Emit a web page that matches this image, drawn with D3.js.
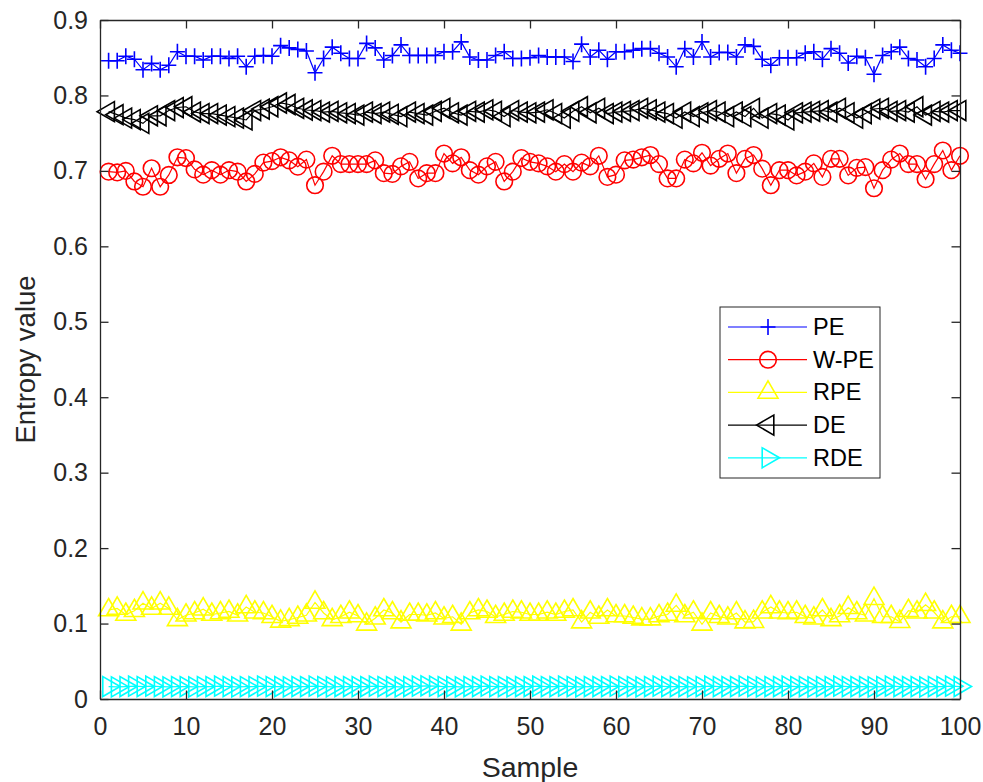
<!DOCTYPE html>
<html>
<head>
<meta charset="utf-8">
<script src="https://cdn.jsdelivr.net/npm/d3@7"></script>
<style>
  body { margin: 0; background: #fff; }
  text { font-family: "Liberation Sans", Arial, Helvetica, sans-serif; fill: #262626; }
</style>
</head>
<body>
<svg id="chart" width="983" height="782"></svg>
<script>
// Sample index 1..100
const samples = d3.range(1, 101);

const peValues = [
  0.846, 0.846, 0.852, 0.848, 0.834, 0.8425, 0.834, 0.840, 0.858, 0.852,
  0.852, 0.847, 0.852, 0.852, 0.849, 0.852, 0.838, 0.852, 0.853, 0.852,
  0.866, 0.863, 0.861, 0.859, 0.830, 0.849, 0.864, 0.856, 0.849, 0.849,
  0.869, 0.863, 0.847, 0.853, 0.867, 0.853, 0.853, 0.853, 0.853, 0.858,
  0.858, 0.871, 0.851, 0.847, 0.847, 0.853, 0.858, 0.849, 0.849, 0.850,
  0.853, 0.851, 0.851, 0.851, 0.845, 0.868, 0.851, 0.860, 0.848, 0.858,
  0.858, 0.860, 0.862, 0.862, 0.856, 0.851, 0.838, 0.862, 0.851, 0.871,
  0.851, 0.857, 0.857, 0.851, 0.867, 0.865, 0.848, 0.840, 0.850, 0.850,
  0.850, 0.856, 0.858, 0.848, 0.862, 0.856, 0.843, 0.852, 0.850, 0.828,
  0.853, 0.858, 0.864, 0.849, 0.847, 0.838, 0.849, 0.867, 0.860, 0.856
];

const wpeValues = [
  0.699, 0.698, 0.700, 0.686, 0.679, 0.7035, 0.679, 0.6946, 0.718, 0.717,
  0.702, 0.695, 0.701, 0.695, 0.701, 0.699, 0.686, 0.696, 0.711, 0.713,
  0.718, 0.714, 0.7056, 0.715, 0.681, 0.699, 0.720, 0.709, 0.709, 0.709,
  0.709, 0.714, 0.697, 0.696, 0.706, 0.712, 0.690, 0.697, 0.697, 0.723,
  0.710, 0.718, 0.701, 0.695, 0.706, 0.712, 0.686, 0.699, 0.717, 0.712,
  0.710, 0.706, 0.699, 0.709, 0.699, 0.711, 0.706, 0.720, 0.692, 0.695,
  0.714, 0.715, 0.718, 0.721, 0.709, 0.690, 0.690, 0.715, 0.710, 0.724,
  0.707, 0.716, 0.723, 0.697, 0.716, 0.721, 0.703, 0.681, 0.701, 0.701,
  0.694, 0.699, 0.710, 0.692, 0.716, 0.716, 0.694, 0.704, 0.705, 0.677,
  0.701, 0.715, 0.723, 0.709, 0.709, 0.689, 0.709, 0.727, 0.701, 0.720
];

const rpeValues = [
  0.118, 0.120, 0.112, 0.117, 0.127, 0.120, 0.127, 0.120, 0.105, 0.111,
  0.114, 0.119, 0.112, 0.114, 0.116, 0.111, 0.122, 0.115, 0.114, 0.109,
  0.103, 0.105, 0.108, 0.111, 0.128, 0.114, 0.105, 0.109, 0.115, 0.110,
  0.099, 0.107, 0.118, 0.114, 0.102, 0.112, 0.112, 0.111, 0.114, 0.107,
  0.109, 0.099, 0.114, 0.118, 0.116, 0.109, 0.112, 0.116, 0.115, 0.112,
  0.112, 0.115, 0.112, 0.116, 0.118, 0.102, 0.115, 0.108, 0.118, 0.110,
  0.110, 0.108, 0.106, 0.106, 0.110, 0.112, 0.124, 0.110, 0.115, 0.099,
  0.114, 0.109, 0.107, 0.114, 0.102, 0.1025, 0.115, 0.122, 0.115, 0.114,
  0.115, 0.109, 0.107, 0.118, 0.105, 0.110, 0.121, 0.114, 0.111, 0.133,
  0.109, 0.109, 0.1025, 0.117, 0.115, 0.125, 0.115, 0.102, 0.109, 0.109
];

const deValues = [
  0.7785, 0.7745, 0.770, 0.768, 0.763, 0.773, 0.773, 0.780, 0.784, 0.785,
  0.778, 0.776, 0.776, 0.774, 0.772, 0.770, 0.7675, 0.780, 0.782, 0.785,
  0.790, 0.788, 0.783, 0.7807, 0.780, 0.778, 0.779, 0.777, 0.776, 0.774,
  0.778, 0.776, 0.778, 0.775, 0.772, 0.778, 0.776, 0.774, 0.779, 0.783,
  0.777, 0.774, 0.779, 0.778, 0.781, 0.779, 0.772, 0.780, 0.778, 0.777,
  0.778, 0.781, 0.776, 0.770, 0.779, 0.785, 0.777, 0.783, 0.776, 0.778,
  0.779, 0.780, 0.783, 0.781, 0.778, 0.776, 0.770, 0.778, 0.772, 0.777,
  0.780, 0.778, 0.772, 0.778, 0.772, 0.783, 0.770, 0.776, 0.774, 0.7675,
  0.777, 0.778, 0.779, 0.780, 0.778, 0.783, 0.777, 0.770, 0.776, 0.782,
  0.783, 0.779, 0.780, 0.778, 0.785, 0.774, 0.779, 0.778, 0.780, 0.780
];

const rdeValues = [
  0.0165, 0.0160, 0.0165, 0.0170, 0.0165, 0.0170, 0.0165, 0.0160, 0.0165, 0.0165,
  0.0160, 0.0165, 0.0165, 0.0170, 0.0165, 0.0160, 0.0165, 0.0165, 0.0170, 0.0165,
  0.0165, 0.0160, 0.0165, 0.0165, 0.0170, 0.0165, 0.0160, 0.0165, 0.0165, 0.0165,
  0.0165, 0.0170, 0.0165, 0.0165, 0.0160, 0.0165, 0.0170, 0.0175, 0.0170, 0.0165,
  0.0165, 0.0160, 0.0165, 0.0165, 0.0170, 0.0165, 0.0165, 0.0160, 0.0165, 0.0165,
  0.0170, 0.0165, 0.0165, 0.0170, 0.0165, 0.0160, 0.0165, 0.0165, 0.0165, 0.0170,
  0.0165, 0.0165, 0.0160, 0.0165, 0.0170, 0.0165, 0.0165, 0.0165, 0.0160, 0.0165,
  0.0170, 0.0165, 0.0165, 0.0165, 0.0170, 0.0165, 0.0160, 0.0165, 0.0165, 0.0170,
  0.0165, 0.0165, 0.0160, 0.0165, 0.0165, 0.0170, 0.0165, 0.0165, 0.0165, 0.0160,
  0.0165, 0.0170, 0.0165, 0.0165, 0.0165, 0.0160, 0.0165, 0.0165, 0.0170, 0.0165
];

const seriesNames = ["PE", "W-PE", "RPE", "DE", "RDE"];
const seriesColors = ["#0000ff", "#ff0000", "#ffff00", "#000000", "#00ffff"];
const seriesMarkers = ["plus", "circle", "triUp", "triLeft", "triRight"];
const seriesValues = [peValues, wpeValues, rpeValues, deValues, rdeValues];

const xTicks = d3.range(0, 101, 10);
const yTicks = [0, 0.1, 0.2, 0.3, 0.4, 0.5, 0.6, 0.7, 0.8, 0.9];
const yTickLabels = ["0", "0.1", "0.2", "0.3", "0.4", "0.5", "0.6", "0.7", "0.8", "0.9"];

const svg = d3.select("#chart");
const plot = { left: 100, right: 960, top: 20, bottom: 699 };

const x = d3.scaleLinear().domain([0, 100]).range([plot.left, plot.right]);
const y = d3.scaleLinear().domain([0, 0.9]).range([plot.bottom, plot.top]);

// Marker shapes (centred on the data point / triangle centroid)
const markerPaths = {
  plus: "M-7.5,0H7.5M0,-8V8",
  triUp: "M0,-11.5L10,5.8L-10,5.8Z",
  triLeft: "M-11.5,0L5.8,-10L5.8,10Z",
  triRight: "M11.5,0L-5.8,-10L-5.8,10Z"
};

function drawMarker(sel, type, color) {
  if (type === "circle") {
    sel.append("circle").attr("r", 8.3)
      .attr("fill", "none").attr("stroke", color).attr("stroke-width", 1.6);
  } else {
    sel.append("path").attr("d", markerPaths[type])
      .attr("fill", "none").attr("stroke", color).attr("stroke-width", 1.6)
      .attr("stroke-linejoin", "miter");
  }
}

// Series
const line = d3.line().x((d, i) => x(samples[i])).y(d => y(d));
seriesValues.forEach((vals, k) => {
  const g = svg.append("g").attr("class", "series");
  g.append("path").attr("d", line(vals))
    .attr("fill", "none").attr("stroke", seriesColors[k]).attr("stroke-width", 1.2);
  vals.forEach((v, i) => {
    const m = g.append("g").attr("transform", `translate(${x(samples[i])},${y(v)})`);
    drawMarker(m, seriesMarkers[k], seriesColors[k]);
  });
});

// Axes (box with inward ticks on all sides)
const axisColor = "#262626";
const tickLen = 8.5;
const fontSize = 25;

const xAxisBottom = d3.axisBottom(x).tickValues(xTicks).tickSizeInner(-tickLen).tickSizeOuter(0).tickPadding(18);
const xAxisTop = d3.axisTop(x).tickValues(xTicks).tickSizeInner(-tickLen).tickSizeOuter(0).tickFormat("");
const yAxisLeft = d3.axisLeft(y).tickValues(yTicks).tickSizeInner(-tickLen).tickSizeOuter(0).tickPadding(12)
  .tickFormat((d, i) => yTickLabels[i]);
const yAxisRight = d3.axisRight(y).tickValues(yTicks).tickSizeInner(-tickLen).tickSizeOuter(0).tickFormat("");

function styleAxis(g) {
  g.select(".domain").attr("stroke", axisColor).attr("stroke-width", 1.3);
  g.selectAll(".tick line").attr("stroke", axisColor).attr("stroke-width", 1.3);
  g.selectAll(".tick text").attr("fill", axisColor)
    .style("font-size", fontSize + "px")
    .style("font-family", '"Liberation Sans", Arial, Helvetica, sans-serif');
}

svg.append("g").attr("transform", `translate(0,${plot.bottom})`).call(xAxisBottom).call(styleAxis);
svg.append("g").attr("transform", `translate(0,${plot.top})`).call(xAxisTop).call(styleAxis);
svg.append("g").attr("transform", `translate(${plot.left},0)`).call(yAxisLeft).call(styleAxis);
svg.append("g").attr("transform", `translate(${plot.right},0)`).call(yAxisRight).call(styleAxis);

// Axis titles
svg.append("text")
  .attr("x", (plot.left + plot.right) / 2).attr("y", 777)
  .attr("text-anchor", "middle").style("font-size", "28.5px")
  .text("Sample");
svg.append("text")
  .attr("transform", `translate(35,${(plot.top + plot.bottom) / 2}) rotate(-90)`)
  .attr("text-anchor", "middle").style("font-size", "27.5px")
  .text("Entropy value");

// Legend
const legend = { x: 720, y: 307, w: 160, h: 171, rowY0: 327, rowStep: 32.7 };
svg.append("rect")
  .attr("x", legend.x).attr("y", legend.y).attr("width", legend.w).attr("height", legend.h)
  .attr("fill", "#fff").attr("stroke", axisColor).attr("stroke-width", 1);
seriesNames.forEach((name, k) => {
  const ry = legend.rowY0 + k * legend.rowStep;
  const g = svg.append("g");
  g.append("line").attr("x1", 728).attr("x2", 807).attr("y1", ry).attr("y2", ry)
    .attr("stroke", seriesColors[k]).attr("stroke-width", 1.2);
  const m = g.append("g").attr("transform", `translate(768,${ry})`);
  drawMarker(m, seriesMarkers[k], seriesColors[k]);
  g.append("text").attr("x", 813).attr("y", ry + 8)
    .style("font-size", "23.5px").style("fill", "#000")
    .text(name);
});
</script>
</body>
</html>
